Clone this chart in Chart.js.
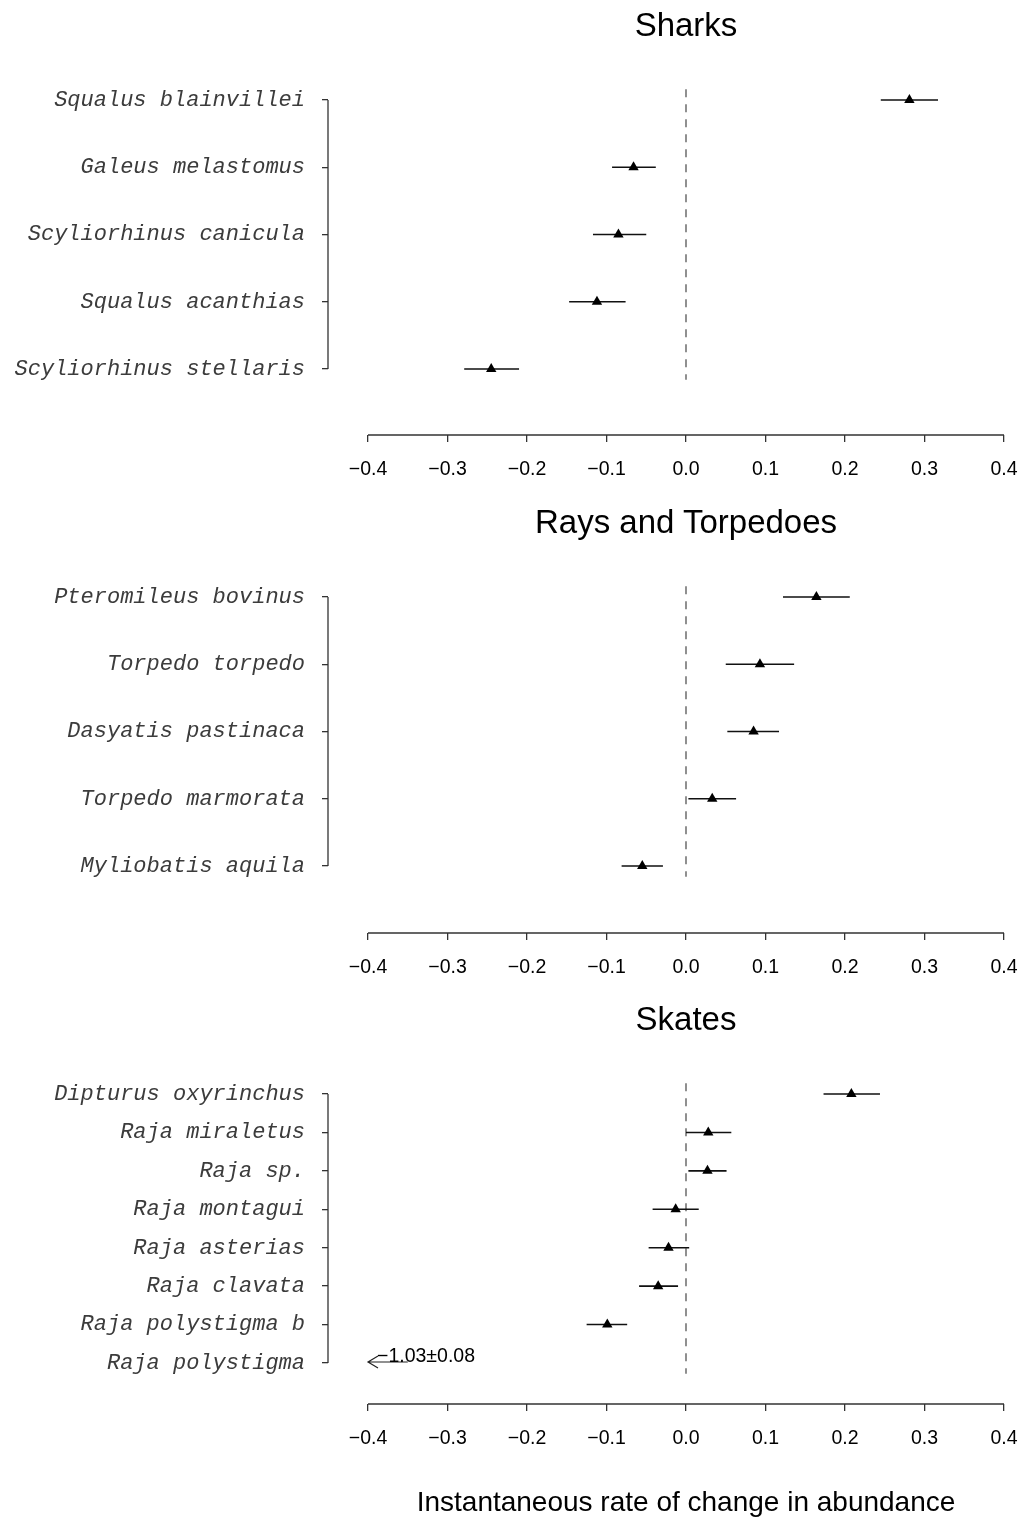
<!DOCTYPE html>
<html>
<head>
<meta charset="utf-8">
<title>Instantaneous rate of change in abundance</title>
<script src="https://cdn.jsdelivr.net/npm/chart.js@4.4.1/dist/chart.umd.min.js"></script>
<style>
  body { margin: 0; background: #fff; }
  #page { position: relative; width: 1023px; height: 1522px; overflow: hidden; }
  canvas { position: absolute; left: 0; }
  .panel-title, .axis-title {
    position: absolute; left: 368px; width: 636px; text-align: center;
    font-family: 'Liberation Sans', Arial, sans-serif; color: #000; white-space: nowrap;
  }
  .panel-title { font-size: 33px; line-height: 40px; }
  .axis-title { font-size: 28px; line-height: 34px; top: 1485px; }
</style>
</head>
<body>
<div id="page">
  <canvas id="sharksChart" width="1023" height="497" style="top:0"></canvas>
  <canvas id="raysChart" width="1023" height="497" style="top:497px"></canvas>
  <canvas id="skatesChart" width="1023" height="528" style="top:994px"></canvas>
  <div class="panel-title" style="top:5px">Sharks</div>
  <div class="panel-title" style="top:502px">Rays and Torpedoes</div>
  <div class="panel-title" style="top:999px">Skates</div>
  <div class="axis-title">Instantaneous rate of change in abundance</div>
</div>
<script>
const xTicks = [-0.4, -0.3, -0.2, -0.1, 0, 0.1, 0.2, 0.3, 0.4];

const sharkSpecies = ['Squalus blainvillei', 'Galeus melastomus', 'Scyliorhinus canicula', 'Squalus acanthias', 'Scyliorhinus stellaris'];
const sharkRate = [0.281, -0.066, -0.085, -0.112, -0.245];
const sharkLow = [0.245, -0.093, -0.117, -0.147, -0.279];
const sharkHigh = [0.317, -0.038, -0.050, -0.076, -0.210];

const raySpecies = ['Pteromileus bovinus', 'Torpedo torpedo', 'Dasyatis pastinaca', 'Torpedo marmorata', 'Myliobatis aquila'];
const rayRate = [0.164, 0.093, 0.085, 0.033, -0.055];
const rayLow = [0.122, 0.050, 0.052, 0.003, -0.081];
const rayHigh = [0.206, 0.136, 0.117, 0.063, -0.029];

const skateSpecies = ['Dipturus oxyrinchus', 'Raja miraletus', 'Raja sp.', 'Raja montagui', 'Raja asterias', 'Raja clavata', 'Raja polystigma b', 'Raja polystigma'];
const skateRate = [0.208, 0.028, 0.027, -0.013, -0.022, -0.035, -0.099, -1.03];
const skateLow = [0.173, 0.000, 0.003, -0.042, -0.047, -0.059, -0.125, -1.11];
const skateHigh = [0.244, 0.057, 0.051, 0.016, 0.004, -0.010, -0.074, -0.95];

// page geometry (pixels)
const canvasWidth = 1023;
const axisLeft = 328;      // where the species axis sits
const plotLeft = 368;      // pixel of -0.4
const plotRight = 1004;    // pixel of 0.4
const plotTop = 88;
const firstRow = 100;
const lastRow = 369;
const xAxisBox = 50;

function signed(v, digits) {
    return (v < 0 ? '\u2212' : '') + Math.abs(v).toFixed(digits);
}

// R-style axis lines: they only run between the first and last tick
const axisLines = {
    id: 'axisLines',
    afterDraw(chart) {
        const { ctx, chartArea, scales: { x, y } } = chart;
        ctx.save();
        ctx.strokeStyle = '#333';
        ctx.lineWidth = 1.3;
        ctx.beginPath();
        ctx.moveTo(chartArea.left, y.getPixelForValue(y.ticks[0].value));
        ctx.lineTo(chartArea.left, y.getPixelForValue(y.ticks[y.ticks.length - 1].value));
        ctx.moveTo(x.getPixelForValue(x.ticks[0].value), chartArea.bottom);
        ctx.lineTo(x.getPixelForValue(x.ticks[x.ticks.length - 1].value), chartArea.bottom);
        ctx.stroke();
        ctx.restore();
    }
};

// estimates left of the axis get an arrow and their value written out
function offScale(rate, low, high) {
    return {
        id: 'offScale',
        afterDatasetsDraw(chart) {
            const { ctx, scales: { x, y } } = chart;
            const edge = xTicks[0];
            rate.forEach(function(v, i) {
                if (v >= edge) return;
                const tip = x.getPixelForValue(edge);
                const tail = x.getPixelForValue(edge + 0.05);
                const py = y.getPixelForValue(i) - 1;
                ctx.save();
                ctx.strokeStyle = '#222';
                ctx.lineWidth = 1.2;
                ctx.beginPath();
                ctx.moveTo(tail, py);
                ctx.lineTo(tip, py);
                ctx.moveTo(tip + 10, py - 6);
                ctx.lineTo(tip, py);
                ctx.lineTo(tip + 10, py + 6);
                ctx.stroke();
                ctx.fillStyle = '#000';
                ctx.font = "19.5px 'Liberation Sans', Arial, sans-serif";
                ctx.textAlign = 'left';
                ctx.textBaseline = 'middle';
                ctx.fillText(signed(v, 2) + '\u00b1' + ((high[i] - low[i]) / 2).toFixed(2), tip + 9, py - 5);
                ctx.restore();
            });
        }
    };
}

function drawPanel(canvasId, species, rate, low, high, axisY) {
    const canvas = document.getElementById(canvasId);
    const n = species.length;
    const rowStep = (lastRow - firstRow) / (n - 1);
    const yMin = -(firstRow - plotTop) / rowStep;
    const yMax = (n - 1) + (axisY - lastRow) / rowStep;
    const xMin = xTicks[0] - (plotLeft - axisLeft) * (xTicks[xTicks.length - 1] - xTicks[0]) / (plotRight - plotLeft);

    const points = rate.map((v, i) => ({ x: v, y: i }));
    const bars = [];
    low.forEach(function(lo, i) {
        bars.push({ x: lo, y: i }, { x: high[i], y: i }, { x: null, y: null });
    });
    const zeroLine = [{ x: 0, y: -0.04 * (n - 1) }, { x: 0, y: 1.04 * (n - 1) }];

    new Chart(canvas.getContext('2d'), {
        type: 'scatter',
        data: {
            datasets: [{
                data: points,
                pointStyle: 'triangle',
                pointRadius: 6,
                borderWidth: 0,
                backgroundColor: '#000'
            }, {
                data: bars,
                showLine: true,
                pointRadius: 0,
                borderColor: '#111',
                borderWidth: 1.6
            }, {
                data: zeroLine,
                showLine: true,
                pointRadius: 0,
                borderColor: '#555',
                borderWidth: 1.3,
                borderDash: [8, 7]
            }]
        },
        options: {
            responsive: false,
            animation: false,
            events: [],
            layout: {
                padding: { top: plotTop, left: 0, right: canvasWidth - plotRight, bottom: canvas.height - axisY - xAxisBox }
            },
            plugins: {
                legend: { display: false },
                tooltip: { enabled: false }
            },
            scales: {
                x: {
                    type: 'linear',
                    min: xMin,
                    max: xTicks[xTicks.length - 1],
                    afterBuildTicks: function(scale) {
                        scale.ticks = xTicks.map(v => ({ value: v }));
                    },
                    afterFit: function(scale) {
                        scale.height = xAxisBox;
                        scale.paddingLeft = 0;
                        scale.paddingRight = 0;
                    },
                    border: { display: false },
                    grid: { drawOnChartArea: false, tickLength: 7, color: '#333', lineWidth: 1.3 },
                    ticks: {
                        autoSkip: false,
                        maxRotation: 0,
                        padding: 16,
                        color: '#000',
                        font: { family: "'Liberation Sans', Arial, sans-serif", size: 19.5 },
                        callback: v => signed(v, 1)
                    }
                },
                y: {
                    type: 'linear',
                    reverse: true,
                    min: yMin,
                    max: yMax,
                    afterBuildTicks: function(scale) {
                        scale.ticks = species.map((_, i) => ({ value: i }));
                    },
                    afterFit: function(scale) {
                        scale.width = axisLeft;
                    },
                    border: { display: false },
                    grid: { drawOnChartArea: false, tickLength: 6, color: '#333', lineWidth: 1.3 },
                    ticks: {
                        autoSkip: false,
                        padding: 17,
                        color: '#3c3c3c',
                        font: { family: "'Liberation Mono', 'Courier New', monospace", size: 22, style: 'italic' },
                        callback: (v, i) => species[i]
                    }
                }
            }
        },
        plugins: [axisLines, offScale(rate, low, high)]
    });
}

drawPanel('sharksChart', sharkSpecies, sharkRate, sharkLow, sharkHigh, 435);
drawPanel('raysChart', raySpecies, rayRate, rayLow, rayHigh, 436);
drawPanel('skatesChart', skateSpecies, skateRate, skateLow, skateHigh, 410);
</script>
</body>
</html>
